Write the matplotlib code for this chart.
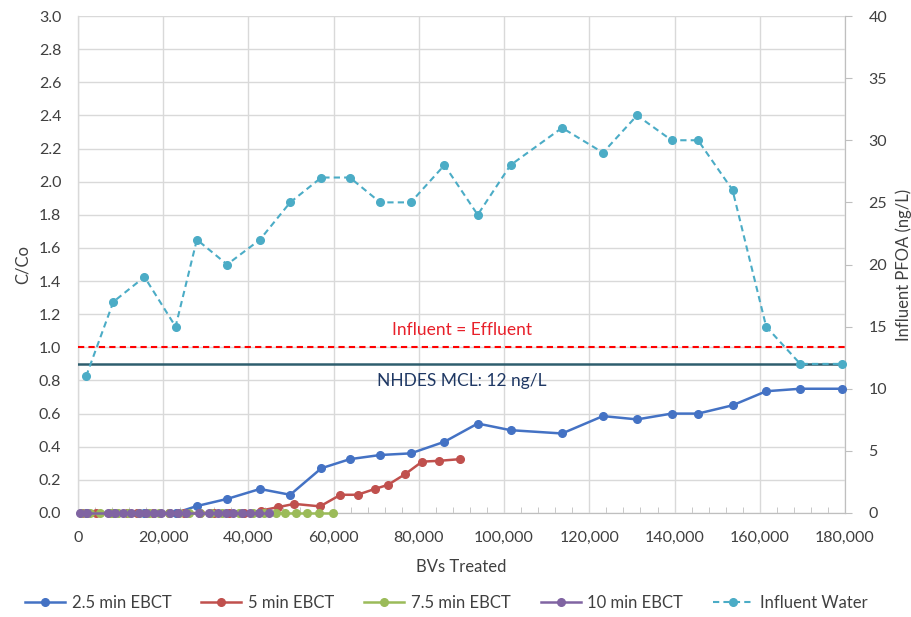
import matplotlib
matplotlib.use("Agg")
import matplotlib.pyplot as plt
from matplotlib.ticker import MultipleLocator, FuncFormatter

plt.rcParams['font.family'] = ['Lato', 'DejaVu Sans']

# Bed volumes treated and breakthrough (C/Co) for each empty bed contact time
bv_25 = [1900, 8300, 15600, 22900, 27900, 35000, 42700, 49800, 57100, 63800, 70900, 78100,
         86000, 93800, 101500, 113600, 123200, 131200, 139300, 145500, 153600, 161500, 169500, 179300]
c_25 = [0, 0, 0, 0, 0.042, 0.085, 0.145, 0.11, 0.27, 0.325, 0.35, 0.36,
        0.43, 0.54, 0.50, 0.48, 0.585, 0.565, 0.60, 0.60, 0.65, 0.735, 0.75, 0.75]

bv_5 = [950, 4150, 7800, 11450, 13950, 17500, 21350, 24900, 28550, 31900, 35450, 39050,
        43000, 46900, 50750, 56800, 61600, 65600, 69650, 72750, 76800, 80750, 84750, 89650]
c_5 = [0, 0, 0, 0, 0, 0, 0, 0, 0, 0, 0, 0,
       0.015, 0.035, 0.055, 0.04, 0.11, 0.11, 0.145, 0.17, 0.235, 0.31, 0.315, 0.325]

bv_75 = [630, 2770, 5200, 7630, 9300, 11670, 14230, 16600, 19030, 21270, 23630, 26030,
         28670, 31270, 33830, 37870, 41070, 43730, 46430, 48500, 51200, 53830, 56500, 59770]
c_75 = [0] * 24

bv_10 = [475, 2075, 6975, 8750, 10675, 12450, 14275, 15950, 17725, 19525, 21500, 23450,
         25375, 28400, 30800, 32800, 34825, 36375, 38400, 40375, 42375, 44825]
c_10 = [0] * 22

# Influent PFOA concentration (ng/L)
bv_inf = bv_25
pfoa_inf = [11, 17, 19, 15, 22, 20, 22, 25, 27, 27, 25, 25,
            28, 24, 28, 31, 29, 32, 30, 30, 26, 15, 12, 12]

mcl = 12          # NHDES MCL, ng/L
equal_line = 1.0  # influent = effluent

x_ticks = [0, 20000, 40000, 60000, 80000, 100000, 120000, 140000, 160000, 180000]

fig = plt.figure(figsize=(9.11, 6.17), dpi=100)
ax = fig.add_axes([78 / 911, 1 - 513 / 617, (845 - 78) / 911, (513 - 16) / 617])
ax2 = ax.twinx()
ax.set_zorder(2)
ax2.set_zorder(1)
ax.patch.set_visible(False)

grid_c = '#D9D9D9'
axis_c = '#BFBFBF'
text_c = '#404040'

ax.set_xlim(0, 180000)
ax.set_ylim(0, 3.0)
ax2.set_ylim(0, 40)
ax.set_xticks(x_ticks)
ax.xaxis.set_minor_locator(MultipleLocator(4000))
ax.yaxis.set_major_locator(MultipleLocator(0.2))
ax2.yaxis.set_major_locator(MultipleLocator(5))
ax.xaxis.set_major_formatter(FuncFormatter(lambda v, p: f"{int(v):,}"))
ax.yaxis.set_major_formatter(FuncFormatter(lambda v, p: f"{v:.1f}"))

ax2.grid(False)
ax.grid(True, which='major', color=grid_c, linewidth=1.0, zorder=0)
for s in ['top']:
    ax.spines[s].set_visible(False)
    ax2.spines[s].set_visible(False)
for s in ['left', 'bottom', 'right']:
    ax.spines[s].set_color(axis_c)
    ax2.spines[s].set_color(axis_c)
    ax.spines[s].set_zorder(0.5)

ax.tick_params(axis='x', which='major', length=0, labelsize=11.5, colors=text_c, pad=13)
ax.tick_params(axis='x', which='minor', length=4, direction='in', color=axis_c)
ax.tick_params(axis='y', length=0, labelsize=11.5, colors=text_c, pad=12)
ax2.tick_params(axis='y', length=5, direction='out', color=axis_c, labelsize=11.5,
                colors=text_c, pad=12)

ax.set_xlabel('BVs Treated', fontsize=12, color=text_c, labelpad=10)
ax.set_ylabel('C/Co', fontsize=12, color=text_c, labelpad=6)
ax2.set_ylabel('Influent PFOA (ng/L)', fontsize=12, color=text_c, labelpad=6)

ms = 5.5
lw = 1.8
kw = dict(lw=lw, ms=ms, clip_on=False, zorder=4)
l1, = ax.plot(bv_25, c_25, '-o', color='#4472C4', label='2.5 min EBCT', **kw)
l2, = ax.plot(bv_5, c_5, '-o', color='#C0504D', label='5 min EBCT', **kw)
l3, = ax.plot(bv_75, c_75, '-o', color='#9BBB59', label='7.5 min EBCT', **kw)
l4, = ax.plot(bv_10, c_10, '-o', color='#8064A2', label='10 min EBCT', **kw)

ax.axhline(equal_line, color='#FF0000', lw=1.5, ls=(0, (3, 2)), zorder=2)
ax.text(90000, 1.105, 'Influent = Effluent', color='#E8202A', fontsize=12.5,
        ha='center', va='center')

# MCL reference line and influent water drawn in ng/L, mapped onto the C/Co axes
to_left = 3.0 / 40
ax.axhline(mcl * to_left, color='#2E5E6E', lw=1.8, zorder=3)
ax.text(90000, 0.795, f'NHDES MCL: {mcl} ng/L', color='#1F3864', fontsize=12.5,
        ha='center', va='center')
l5, = ax2.plot([], [], '--o', color='#4BACC6', lw=1.5, ms=ms, dashes=(3, 2),
               label='Influent Water')
ax.plot(bv_inf, [v * to_left for v in pfoa_inf], '--o', color='#4BACC6', lw=1.5, ms=ms,
        dashes=(3, 2), zorder=5, clip_on=False)

leg = ax.legend(handles=[l1, l2, l3, l4, l5], loc='upper center',
                bbox_to_anchor=(0.48, -0.135), ncol=5, frameon=False, fontsize=12,
                handlelength=2.4, columnspacing=1.8, handletextpad=0.4)
for t in leg.get_texts():
    t.set_color(text_c)

fig.savefig('out.png', dpi=100)
